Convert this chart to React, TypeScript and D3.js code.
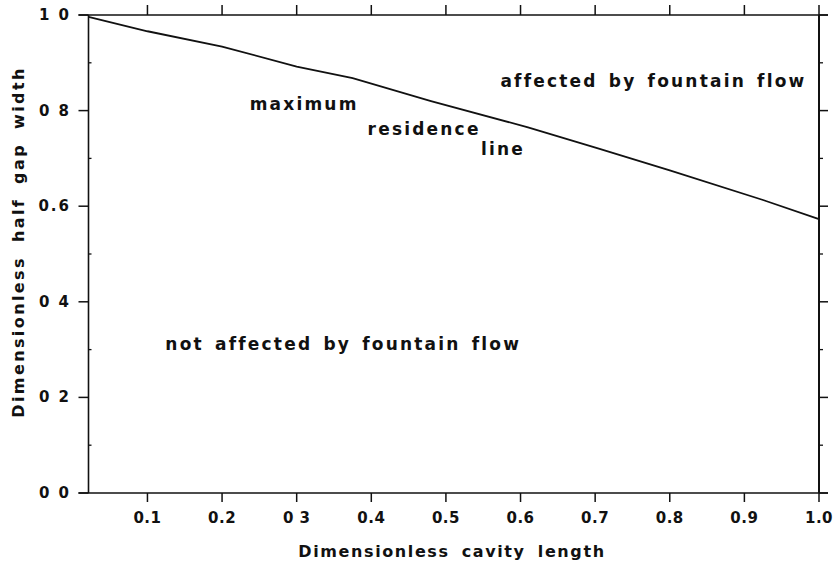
import React from "react";
import * as d3 from "d3";

const curveX = [0.021, 0.1, 0.2, 0.3, 0.375, 0.48, 0.61, 0.706, 0.8, 0.925, 1.0];
const curveY = [0.996, 0.966, 0.934, 0.892, 0.868, 0.82, 0.765, 0.72, 0.675, 0.613, 0.573];
const xTicks = [0.1, 0.2, 0.3, 0.4, 0.5, 0.6, 0.7, 0.8, 0.9, 1.0];
const xTickLabels = ["0.1", "0.2", "0 3", "0.4", "0.5", "0.6", "0.7", "0.8", "0.9", "1.0"];
const yTicks = [0, 0.2, 0.4, 0.6, 0.8, 1.0];
const yTickLabels = ["0 0", "0 2", "0 4", "0.6", "0 8", "1 0"];
const yMinor = [0.1, 0.3, 0.5, 0.7, 0.9];
const annotations = [
  { text: "maximum", x: 0.237, y: 0.801 },
  { text: "residence", x: 0.395, y: 0.749 },
  { text: "line", x: 0.547, y: 0.707 },
  { text: "affected by fountain flow", x: 0.573, y: 0.849 },
  { text: "not affected by fountain flow", x: 0.124, y: 0.299 },
];

export default function App() {
  const W = 837, H = 566;
  const x = d3.scaleLinear().domain([0.021, 1.0]).range([88.5, 819]);
  const y = d3.scaleLinear().domain([0, 1]).range([493, 15]);
  const line = d3.line<number>().x((d, i) => x(curveX[i])).y((d) => y(d));
  const font = "'DejaVu Sans', sans-serif";
  const ink = "#111";
  return (
    <svg width={W} height={H} style={{ position: "absolute", left: 0, top: 0, background: "#fff" }}>
      <g stroke={ink} fill="none">
        <line x1={x(0.021)} x2={x(0.021)} y1={y(0)} y2={y(1)} strokeWidth={1.6} />
        <line x1={x(1)} x2={x(1)} y1={y(0)} y2={y(1)} strokeWidth={2} />
        <line x1={x(0.021) - 10} x2={828} y1={y(1)} y2={y(1)} strokeWidth={1.5} />
        <line x1={x(0.021) - 10} x2={828} y1={y(0)} y2={y(0)} strokeWidth={1.5} />
        {xTicks.map((t) => (
          <g key={"xt" + t}>
            <line x1={x(t)} x2={x(t)} y1={y(0)} y2={y(0) + 9} strokeWidth={1.5} />
            <line x1={x(t)} x2={x(t)} y1={y(1)} y2={y(1) - 10} strokeWidth={1.5} />
          </g>
        ))}
        {yTicks.map((t) => (
          <g key={"yt" + t}>
            <line x1={x(0.021) - 10} x2={x(0.021)} y1={y(t)} y2={y(t)} strokeWidth={1.5} />
            <line x1={x(1)} x2={x(1) + 9} y1={y(t)} y2={y(t)} strokeWidth={1.5} />
          </g>
        ))}
        {yMinor.map((t) => (
          <g key={"ym" + t}>
            <line x1={x(0.021)} x2={x(0.021) + 3} y1={y(t)} y2={y(t)} strokeWidth={1.3} />
            <line x1={x(1)} x2={x(1) + 4} y1={y(t)} y2={y(t)} strokeWidth={1.3} />
          </g>
        ))}
        <path d={line(curveY) || ""} strokeWidth={1.8} />
      </g>
      <g fill={ink} fontFamily={font} fontSize={15} fontWeight={600}>
        {xTicks.map((t, i) => (
          <text key={"xl" + t} x={x(t)} y={523} textAnchor="middle" letterSpacing={0.5}>{xTickLabels[i]}</text>
        ))}
        {yTicks.map((t, i) => (
          <text key={"yl" + t} x={71} y={y(t) + 5} textAnchor="end" letterSpacing={2}>{yTickLabels[i]}</text>
        ))}
      </g>
      <g fill={ink} fontFamily={font} fontSize={17} fontWeight={600} letterSpacing={2.2} wordSpacing={3}>
        {annotations.map((a) => (
          <text key={a.text} x={x(a.x)} y={y(a.y)}>{a.text}</text>
        ))}
      </g>
      <g fill={ink} fontFamily={font} fontSize={16} fontWeight={600} letterSpacing={1.6} wordSpacing={5}>
        <text x={452} y={557} textAnchor="middle">Dimensionless cavity length</text>
        <text transform={`translate(24,${242}) rotate(-90)`} textAnchor="middle" letterSpacing={2.4} wordSpacing={6}>Dimensionless half gap width</text>
      </g>
    </svg>
  );
}
